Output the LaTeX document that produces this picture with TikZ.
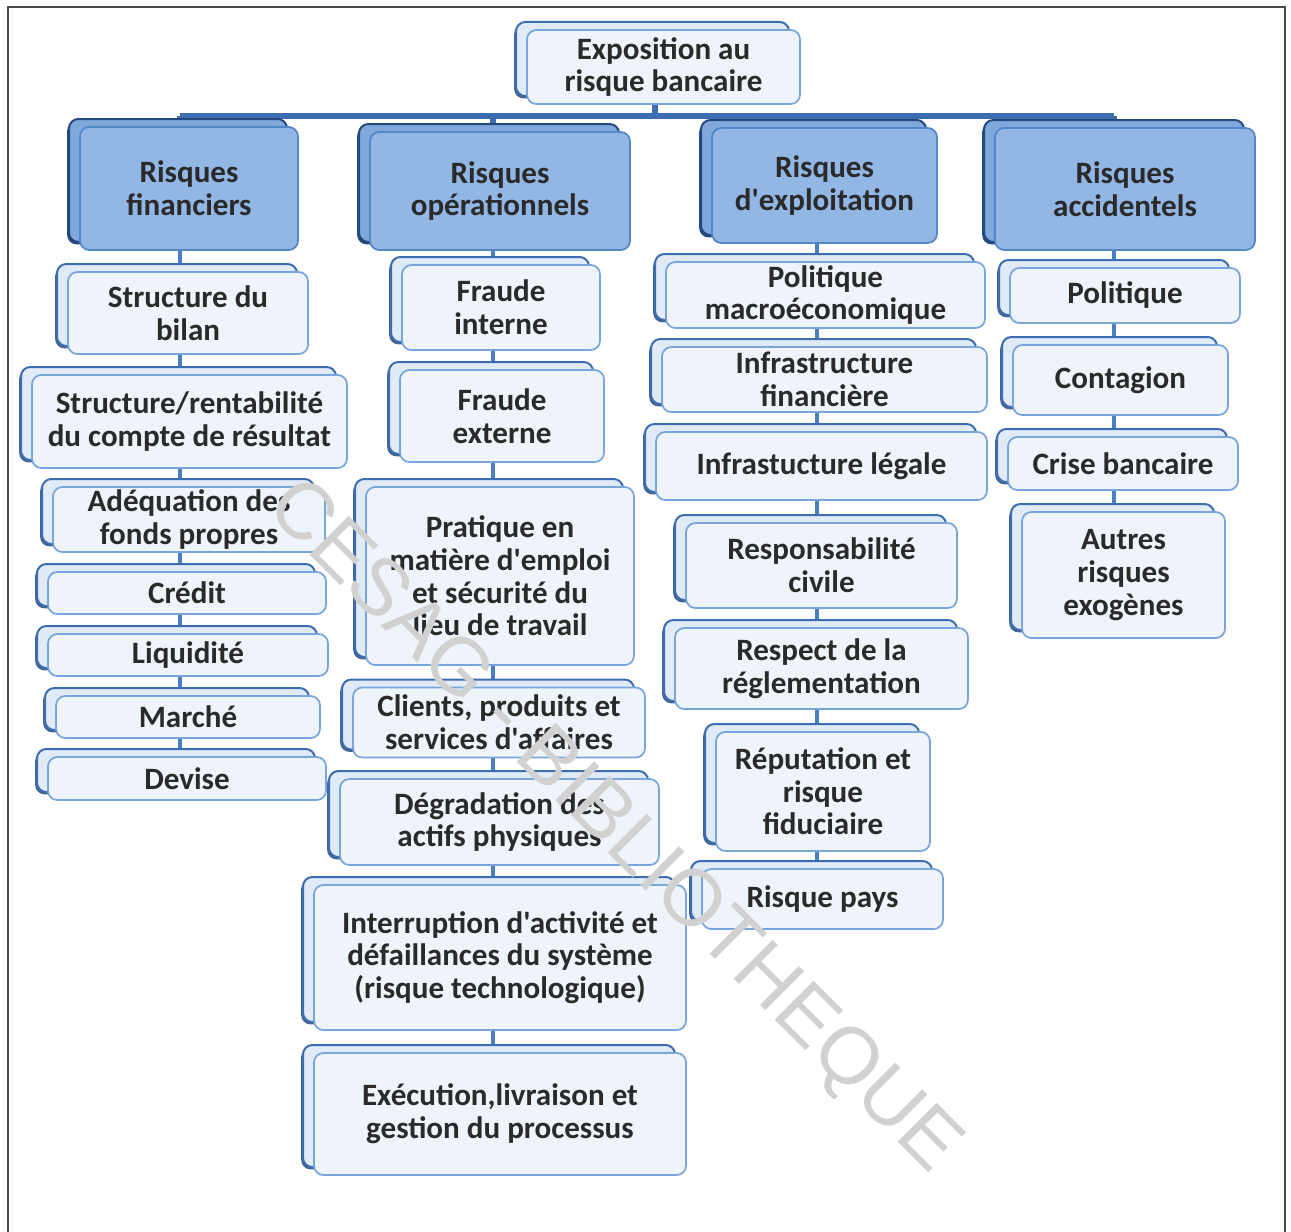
\documentclass[tikz,border=0pt]{standalone}
\usepackage{fontspec}
\setmainfont{Carlito}[Ligatures=TeXOff]
\newfontfamily\markfont{Liberation Sans}
\usetikzlibrary{shadows,backgrounds}

\definecolor{edgeblue}{HTML}{78A6DC}
\definecolor{backblue}{HTML}{3C6DB0}
\definecolor{deepblue}{HTML}{24497E}
\definecolor{paleblue}{HTML}{EFF4FB}
\definecolor{catfill}{HTML}{92B7E5}
\definecolor{catedge}{HTML}{5287C8}
\definecolor{linkblue}{HTML}{4A7EC2}
\definecolor{inktext}{HTML}{2A2A2A}
\definecolor{framegray}{HTML}{4A4A4A}

\begin{document}
\begin{tikzpicture}[x=0.75pt,y=-0.75pt,
  sz/.style 2 args={minimum width=#1*0.75pt, minimum height=#2*0.75pt},
  basebox/.style={rounded corners=7pt, align=center, inner sep=0pt,
    text=inktext, font=\bfseries\fontsize{23.3}{24.5}\selectfont},
  leaf/.style={basebox, draw=edgeblue, line width=1.3pt, fill=paleblue,
    general shadow={shadow xshift=-9.6pt, shadow yshift=4.2pt, fill=deepblue!85, draw=none},
    copy shadow={shadow xshift=-8.25pt, shadow yshift=6pt, draw=backblue,
      fill=paleblue!88!edgeblue, line width=1.5pt}},
  cat/.style={basebox, draw=catedge, line width=1.3pt, fill=catfill,
    general shadow={shadow xshift=-9.6pt, shadow yshift=4.2pt, fill=deepblue, draw=none},
    copy shadow={shadow xshift=-8.25pt, shadow yshift=6pt, draw=deepblue,
      fill=catfill!80!backblue, line width=1.5pt}},
  link/.style={draw=linkblue, line width=2.4pt},
  bus/.style={draw=backblue, line width=3.8pt}]

\useasboundingbox (0,0) rectangle (1291,1231);

% root and the four families of risk
\node[leaf, sz={273}{74}] (root) at (663.5,67) {Exposition au\\risque bancaire};
\node[cat, sz={218}{123}] (fin) at (189,188.5) {Risques\\financiers};
\node[cat, sz={260}{118}] (ops) at (500,191) {Risques\\opérationnels};
\node[cat, sz={225}{115}] (exp) at (824.5,185.5) {Risques\\d'exploitation};
\node[cat, sz={260}{122}] (acc) at (1125,189) {Risques\\accidentels};

% financial risks
\node[leaf, sz={240}{82}]  (f1) at (188,313)   {Structure du\\bilan};
\node[leaf, sz={315}{93}]  (f2) at (189.5,421.5) {Structure/rentabilité\\du compte de résultat};
\node[leaf, sz={272}{65}]  (f3) at (189,519.5) {Adéquation des\\fonds propres};
\node[leaf, sz={278}{42}]  (f4) at (187,593)   {Crédit};
\node[leaf, sz={280}{42}]  (f5) at (188,655)   {Liquidité};
\node[leaf, sz={264}{42}]  (f6) at (188,717)   {Marché};
\node[leaf, sz={278}{43}]  (f7) at (187,778.5) {Devise};

% operational risks
\node[leaf, sz={198}{85}]  (o1) at (501,307.5) {Fraude\\interne};
\node[leaf, sz={204}{92}]  (o2) at (502,416)   {Fraude\\externe};
\node[leaf, sz={268}{178}] (o3) at (500,576)   {Pratique en\\matière d'emploi\\et sécurité du\\lieu de travail};
\node[leaf, sz={292}{70}]  (o4) at (499,722.5) {Clients, produits et\\services d'affaires};
\node[leaf, sz={319}{86}]  (o5) at (499.5,822) {Dégradation des\\actifs physiques};
\node[leaf, sz={372}{145}] (o6) at (500,957.5) {Interruption d'activité et\\défaillances du système\\(risque technologique)};
\node[leaf, sz={372}{122}] (o7) at (500,1114)  {Exécution,livraison et\\gestion du processus};

% operating risks
\node[leaf, sz={319}{66}]  (e1) at (825.5,295)   {Politique\\macroéconomique};
\node[leaf, sz={325}{65}]  (e2) at (824.5,379.5) {Infrastructure\\financière};
\node[leaf, sz={331}{68}]  (e3) at (821.5,466)   {Infrastucture légale};
\node[leaf, sz={271}{85}]  (e4) at (821.5,565.5) {Responsabilité\\civile};
\node[leaf, sz={293}{81}]  (e5) at (821.5,668.5) {Respect de la\\réglementation};
\node[leaf, sz={214}{119}] (e6) at (823,791.5)   {Réputation et\\risque\\fiduciaire};
\node[leaf, sz={241}{60}]  (e7) at (822.5,899)   {Risque pays};

% accidental risks
\node[leaf, sz={230}{55}]  (a1) at (1125,295.5)  {Politique};
\node[leaf, sz={215}{70}]  (a2) at (1120.5,380)  {Contagion};
\node[leaf, sz={230}{53}]  (a3) at (1123,463.5)  {Crise bancaire};
\node[leaf, sz={203}{126}] (a4) at (1123.5,575)  {Autres\\risques\\exogènes};

% column guides and the top bus
\coordinate (cf) at (180,0);
\coordinate (co) at (493,0);
\coordinate (ce) at (817,0);
\coordinate (ca) at (1114,0);
\coordinate (hub) at (655,116);
\coordinate (busL) at (180,116);
\coordinate (busR) at (1114,116);

\begin{scope}[on background layer]
  \fill[white] (0,0) rectangle (1291,1231);
  \draw[framegray, line width=1.6pt] (8,7) rectangle (1285,1245);
  \draw[bus] (root.south -| hub) -- (hub);
  \draw[bus] (busL) -- (busR);
  \draw[bus] (busL) -- (fin.north -| cf);
  \draw[bus] (busL -| co) -- (ops.north -| co);
  \draw[bus] (busL -| ce) -- (exp.north -| ce);
  \draw[bus] (busR) -- (acc.north -| ca);
  \foreach \p/\c/\x in {fin/f1/cf, f1/f2/cf, f2/f3/cf, f3/f4/cf, f4/f5/cf, f5/f6/cf, f6/f7/cf,
                        ops/o1/co, o1/o2/co, o2/o3/co, o3/o4/co, o4/o5/co, o5/o6/co, o6/o7/co,
                        exp/e1/ce, e1/e2/ce, e2/e3/ce, e3/e4/ce, e4/e5/ce, e5/e6/ce, e6/e7/ce,
                        acc/a1/ca, a1/a2/ca, a2/a3/ca, a3/a4/ca}
    \draw[link] (\p.south -| \x) -- (\c.north -| \x);
\end{scope}

% library stamp across the chart
\node[rotate=-45, text=black!18, font=\markfont\fontsize{60}{60}\selectfont] (stamp) at (612,828) {CESAG - BIBLIOTHEQUE};
\end{tikzpicture}
\end{document}
